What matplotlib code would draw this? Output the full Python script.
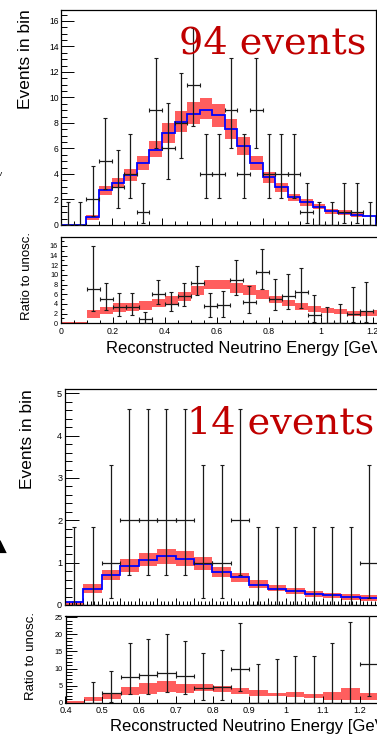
import numpy as np
import matplotlib
matplotlib.use("Agg")
import matplotlib.pyplot as plt
from matplotlib.ticker import MultipleLocator, FormatStrFormatter

W, H = 377, 736
SANS = "Liberation Sans"
BAND_COLOR = "#ff5e5e"
PRED_COLOR = "#0000ff"
DATA_COLOR = "#1a1a1a"
TITLE_COLOR = "#c00000"

# ---- upper plot: 0 - 1.25 GeV, 0.05 GeV bins ----
TOP_EDGES = np.arange(0.0, 1.2501, 0.05)
TOP_PRED = [0, 0, 0.6, 2.72, 3.3, 3.95, 4.9, 5.9, 7.25, 8.08, 8.7, 9.05, 8.6,
            7.5, 6.18, 4.89, 3.74, 2.98, 2.17, 1.77, 1.4, 1.1, 0.97, 0.81, 0.73]
TOP_BAND_LO = [0, 0, 0.4, 2.35, 2.88, 3.45, 4.31, 5.31, 6.46, 7.29, 7.9, 8.29, 7.71,
               6.72, 5.49, 4.31, 3.27, 2.61, 1.91, 1.52, 1.23, 0.89, 0.81, 0.65, 0]
TOP_BAND_HI = [0, 0, 0.8, 3.09, 3.67, 4.37, 5.41, 6.59, 8.03, 8.94, 9.65, 9.96, 9.49,
               8.31, 6.88, 5.41, 4.16, 3.32, 2.43, 2.01, 1.62, 1.25, 1.15, 0.97, 0]
TOP_DATA = [0, 0, 2, 5, 3, 4, 1, 9, 6, 8, 11, 4, 4, 9, 4, 9, 4, 4, 4, 1, 0, 0, 1, 1, 0]
TOP_DATA_LO = [0, 0, 0.71, 2.84, 1.37, 2.09, 0.17, 6.06, 3.62, 5.23, 7.73, 2.09, 2.09,
               6.06, 2.09, 6.06, 2.09, 2.09, 2.09, 0.17, 0, 0, 0.17, 0.17, 0]
TOP_DATA_HI = [1.84, 1.84, 4.64, 8.38, 5.92, 7.16, 3.3, 13.11, 9.58, 11.94, 15.41, 7.16,
               7.16, 13.11, 7.16, 13.11, 7.16, 7.16, 7.16, 3.3, 1.84, 1.84, 3.3, 3.3, 1.84]

TOP_RATIO_BAND_LO = [0, 0, 1.0, 1.9, 2.3, 2.6, 2.8, 3.4, 3.9, 4.6, 5.8, 7.0, 7.0,
                     6.3, 5.9, 5.0, 4.1, 3.6, 2.8, 2.4, 2.1, 1.9, 1.6, 1.5, 1.6]
TOP_RATIO_BAND_HI = [0.3, 0.3, 2.7, 3.4, 4.1, 4.1, 4.6, 5.0, 5.6, 6.5, 7.7, 9.0, 9.0,
                     8.4, 7.9, 6.8, 5.6, 4.9, 4.1, 3.6, 3.2, 2.9, 2.6, 2.6, 2.7]
# data/unoscillated ratio, bins 0.10 - 1.20 GeV
TOP_RATIO_X = [0.125, 0.175, 0.225, 0.275, 0.325, 0.375, 0.425, 0.475, 0.525, 0.575, 0.625,
               0.675, 0.725, 0.775, 0.825, 0.875, 0.925, 0.975, 1.025, 1.075, 1.125, 1.175]
TOP_RATIO = [7.0, 5.03, 3.37, 3.4, 0.8, 6.1, 4.07, 5.59, 8.41, 3.52, 3.79,
             8.9, 4.41, 10.6, 5.1, 5.72, 6.41, 1.79, 0, 0, 2.0, 2.55]
TOP_RATIO_LO = [2.5, 2.75, 1.5, 1.7, 0.14, 4.0, 2.46, 3.66, 5.9, 1.31, 1.38,
                5.93, 2.07, 7.17, 2.69, 2.9, 3.24, 0.28, 0, 0, 0.28, 0.2]
TOP_RATIO_HI = [16.0, 8.4, 6.2, 6.2, 2.4, 8.96, 6.5, 8.4, 11.86, 6.2, 6.76,
                13.0, 7.8, 15.45, 9.2, 10.2, 11.4, 5.93, 3.45, 4.0, 7.52, 8.55]

# ---- lower plot: 0.4 - 1.25 GeV, 0.05 GeV bins ----
BOT_EDGES = np.arange(0.4, 1.2501, 0.05)
BOT_PRED = [0.06, 0.38, 0.70, 0.92, 1.07, 1.16, 1.09, 0.98, 0.79, 0.65, 0.48,
            0.38, 0.34, 0.26, 0.23, 0.195, 0.17]
BOT_BAND_LO = [0.0, 0.29, 0.59, 0.78, 0.91, 0.98, 0.92, 0.83, 0.66, 0.55, 0.41,
               0.32, 0.27, 0.20, 0.16, 0.12, 0.10]
BOT_BAND_HI = [0.06, 0.49, 0.82, 1.08, 1.23, 1.33, 1.27, 1.13, 0.90, 0.76, 0.60,
               0.48, 0.41, 0.32, 0.29, 0.26, 0.23]
BOT_DATA = [0, 0, 1, 2, 2, 2, 2, 1, 1, 2, 0, 0, 0, 0, 0, 0, 1]
BOT_DATA_LO = [0, 0, 0.17, 0.71, 0.71, 0.71, 0.71, 0.17, 0.17, 0.71, 0, 0, 0, 0, 0, 0, 0.17]
BOT_DATA_HI = [1.84, 1.84, 3.3, 4.64, 4.64, 4.64, 4.64, 3.3, 3.3, 4.64, 1.84,
               1.84, 1.84, 1.84, 1.84, 1.84, 3.3]

BOT_RATIO_BAND_LO = [0.0, 0.49, 0.98, 2.25, 2.64, 3.03, 2.83, 3.42, 3.13, 2.54, 2.0,
                     1.9, 1.66, 1.37, 0.88, 0.88, 0.78]
BOT_RATIO_BAND_HI = [0.6, 1.76, 2.83, 4.7, 5.86, 6.35, 5.47, 5.37, 4.98, 4.3, 3.75,
                     2.9, 3.22, 2.54, 3.13, 4.3, 2.83]
BOT_RATIO_X = [0.475, 0.525, 0.575, 0.625, 0.675, 0.725, 0.775, 0.825, 0.875,
               0.925, 0.975, 1.025, 1.075, 1.125, 1.175, 1.225]
BOT_RATIO = [0, 2.83, 7.4, 8.1, 8.7, 7.7, 4.3, 4.5, 9.86, 0, 0, 0, 0, 0, 0, 11.2]
BOT_RATIO_LO = [0, 0.3, 2.44, 2.64, 3.03, 2.54, 0.68, 0.78, 3.4, 0, 0, 0, 0, 0, 0, 1.9]
BOT_RATIO_HI = [6.15, 9.4, 17.6, 18.75, 20.0, 18.0, 14.55, 15.4, 23.3, 11.3, 12.7,
                13.8, 13.6, 17.6, 23.7, 37.0]

BIN_HALF = 0.025


def px_axes(fig, left, right, top, bottom):
    return fig.add_axes([left / W, 1 - bottom / H, (right - left) / W, (bottom - top) / H])


def draw_band(ax, edges, lo, hi):
    lo, hi = np.asarray(lo, float), np.asarray(hi, float)
    ax.bar(edges[:-1], hi - lo, bottom=lo, width=np.diff(edges), align="edge",
           color=BAND_COLOR, linewidth=0, zorder=1)


def draw_points(ax, x, y, lo, hi):
    x, y = np.asarray(x, float), np.asarray(y, float)
    lo, hi = np.asarray(lo, float), np.asarray(hi, float)
    ax.errorbar(x, y, yerr=[y - lo, hi - y], xerr=BIN_HALF, fmt="none",
                ecolor=DATA_COLOR, elinewidth=0.9, capsize=1.6, capthick=0.8, zorder=3)


def style(ax, xmaj, xmin, ymaj, ymin, xlen, ylen, ylab, xlab=None):
    for s in ("top", "right", "left", "bottom"):
        ax.spines[s].set_linewidth(0.9)
    ax.xaxis.set_major_locator(MultipleLocator(xmaj))
    ax.xaxis.set_minor_locator(MultipleLocator(xmin))
    ax.yaxis.set_major_locator(MultipleLocator(ymaj))
    ax.yaxis.set_minor_locator(MultipleLocator(ymin))
    ax.tick_params(axis="both", which="both", direction="in", top=False, right=False,
                   width=0.7)
    ax.tick_params(axis="y", which="major", length=ylen, labelsize=ylab, pad=2)
    ax.tick_params(axis="y", which="minor", length=ylen * 0.5)
    ax.tick_params(axis="x", which="major", length=xlen, pad=2.5)
    ax.tick_params(axis="x", which="minor", length=xlen * 0.6)
    ax.yaxis.set_major_formatter(FormatStrFormatter("%g"))
    if xlab is None:
        ax.tick_params(axis="x", labelbottom=False)
    else:
        ax.tick_params(axis="x", labelsize=xlab)
        ax.xaxis.set_major_formatter(FormatStrFormatter("%g"))
    for t in ax.get_xticklabels() + ax.get_yticklabels():
        t.set_family(SANS)


plt.rcParams["font.family"] = [SANS, "DejaVu Sans"]
fig = plt.figure(figsize=(W / 100, H / 100), dpi=100)
fig.patch.set_facecolor("white")

# upper plot, spectrum
ax1 = px_axes(fig, 61.3, 375.8, 9.5, 225)
draw_band(ax1, TOP_EDGES, TOP_BAND_LO, TOP_BAND_HI)
ax1.stairs(TOP_PRED, TOP_EDGES, baseline=0, color=PRED_COLOR, linewidth=1.3, zorder=2)
draw_points(ax1, TOP_EDGES[:-1] + BIN_HALF, TOP_DATA, TOP_DATA_LO, TOP_DATA_HI)
ax1.set_xlim(0, 1.25)
ax1.set_ylim(0, 16.9)
style(ax1, 0.2, 0.05, 2, 0.5, 5, 9, 6.2)

# upper plot, ratio
ax2 = px_axes(fig, 60.8, 385.8, 237.3, 323.3)
draw_band(ax2, TOP_EDGES, TOP_RATIO_BAND_LO, TOP_RATIO_BAND_HI)
draw_points(ax2, TOP_RATIO_X, TOP_RATIO, TOP_RATIO_LO, TOP_RATIO_HI)
ax2.set_xlim(0, 1.25)
ax2.set_ylim(0, 17.8)
style(ax2, 0.2, 0.05, 2, 1, 4, 4, 5.2, xlab=6.3)

# lower plot, spectrum
ax3 = px_axes(fig, 65, 378.2, 389.3, 605)
draw_band(ax3, BOT_EDGES, BOT_BAND_LO, BOT_BAND_HI)
ax3.stairs(BOT_PRED, BOT_EDGES, baseline=0, color=PRED_COLOR, linewidth=1.3, zorder=2)
draw_points(ax3, BOT_EDGES[:-1] + BIN_HALF, BOT_DATA, BOT_DATA_LO, BOT_DATA_HI)
ax3.set_xlim(0.4, 1.25)
ax3.set_ylim(0, 5.095)
style(ax3, 0.05, 0.01, 1, 0.2, 5, 10, 6.6)

# lower plot, ratio
ax4 = px_axes(fig, 65.5, 377.9, 616, 702.7)
draw_band(ax4, BOT_EDGES, BOT_RATIO_BAND_LO, BOT_RATIO_BAND_HI)
draw_points(ax4, BOT_RATIO_X, BOT_RATIO, BOT_RATIO_LO, BOT_RATIO_HI)
ax4.set_xlim(0.4, 1.25)
ax4.set_ylim(0, 25.4)
style(ax4, 0.1, 0.05, 5, 1, 5, 8, 5.2, xlab=6.6)

# axis titles
fig.text(26 / W, 1 - 9.5 / H, "Events in bin", rotation=90, ha="center", va="top",
         fontsize=12.5)
fig.text(27.5 / W, 1 - 232 / H, "Ratio to unosc.", rotation=90, ha="center", va="top",
         fontsize=9.5)
fig.text(106 / W, 1 - 352.5 / H, "Reconstructed Neutrino Energy [GeV]", ha="left",
         va="baseline", fontsize=12)
fig.text(27.5 / W, 1 - 389.5 / H, "Events in bin", rotation=90, ha="center", va="top",
         fontsize=12.5)
fig.text(31 / W, 1 - 612 / H, "Ratio to unosc.", rotation=90, ha="center", va="top",
         fontsize=9.5)
fig.text(110 / W, 1 - 731.5 / H, "Reconstructed Neutrino Energy [GeV]", ha="left",
         va="baseline", fontsize=12)

# event counts
fig.text(366 / W, 1 - 53.5 / H, "94 events", ha="right", va="baseline", fontsize=27.5,
         family="DejaVu Serif", color=TITLE_COLOR)
fig.text(374 / W, 1 - 433.5 / H, "14 events", ha="right", va="baseline", fontsize=27.5,
         family="DejaVu Serif", color=TITLE_COLOR)

# edge glyphs from the neighbouring panel
fig.text(0, 1 - 547 / H, "\u25b2", ha="center", va="center", fontsize=12,
         family="DejaVu Sans")
fig.text(0, 1 - 174 / H, "v", ha="center", va="center", fontsize=6)

fig.savefig("out.png", dpi=100, facecolor="white")
